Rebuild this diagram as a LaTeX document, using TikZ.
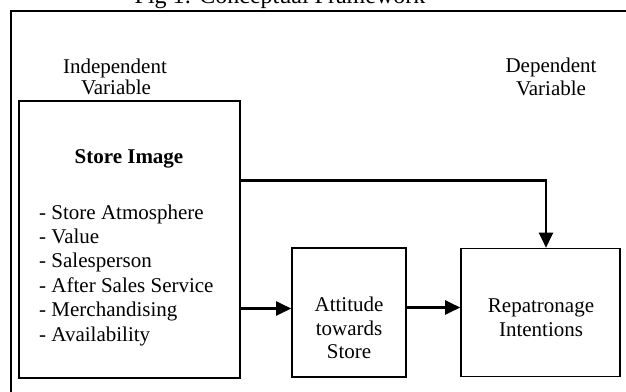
\documentclass[tikz,border=0pt]{standalone}
\usepackage{fontspec}
\setmainfont{Liberation Serif}
\usetikzlibrary{arrows.meta}
\begin{document}
\begin{tikzpicture}[x=1pt,y=-1pt,
  box/.style={draw, line width=1.6pt, inner sep=0pt},
  conn/.style={line width=2.2pt, -{Triangle[length=15pt,width=14pt]}},
  txt/.style={font=\fontsize{21}{24}\selectfont, inner sep=0pt, anchor=base},
  ttl/.style={font=\fontsize{24}{28}\selectfont, inner sep=0pt, anchor=base}
]
\useasboundingbox (0,0) rectangle (626,391);
% frame
\draw[line width=2pt] (10.5,400) -- (10.5,10.5) -- (640,10.5);
\node[ttl] (title) at (280,3) {Fig 1: Conceptual Framework};

% headings
\node[txt] (iv1) at (115,73) {Independent};
\node[txt] (iv2) at (116,94) {Variable};
\node[txt] (dv1) at (551,72) {Dependent};
\node[txt] (dv2) at (551,95) {Variable};

% boxes
\node[box, minimum width=221pt, minimum height=277pt] (img) at (129.5,239.5) {};
\node[box, minimum width=114pt, minimum height=129pt] (att) at (349,312.5) {};
\node[box, minimum width=159pt, minimum height=128pt] (rep) at (540.5,312.5) {};

% store image text
\node[txt, font=\fontsize{21}{24}\selectfont\bfseries] (imgt) at (129,163) {Store Image};
\foreach \t [count=\i] in {Store Atmosphere, Value, Salesperson, After Sales Service, Merchandising, Availability}
  \node[txt, anchor=base west] (item\i) at (39,{219+24.4*(\i-1)}) {- \t};

% attitude text
\node[txt] (att1) at (349,311.5) {Attitude};
\node[txt] (att2) at (349,335) {towards};
\node[txt] (att3) at (349,358.5) {Store};

% repatronage text
\node[txt] (rep1) at (541,312) {Repatronage};
\node[txt] (rep2) at (541,336) {Intentions};

% connectors
\coordinate (bend) at (546,180.5);
\coordinate (a1) at (0,308.5);
\coordinate (a2) at (0,307.5);
\draw[conn] (img.east |- bend) -- (bend) -- (bend |- rep.north);
\draw[conn] (img.east |- a1) -- (att.west |- a1);
\draw[conn] (att.east |- a2) -- (rep.west |- a2);
\end{tikzpicture}
\end{document}
